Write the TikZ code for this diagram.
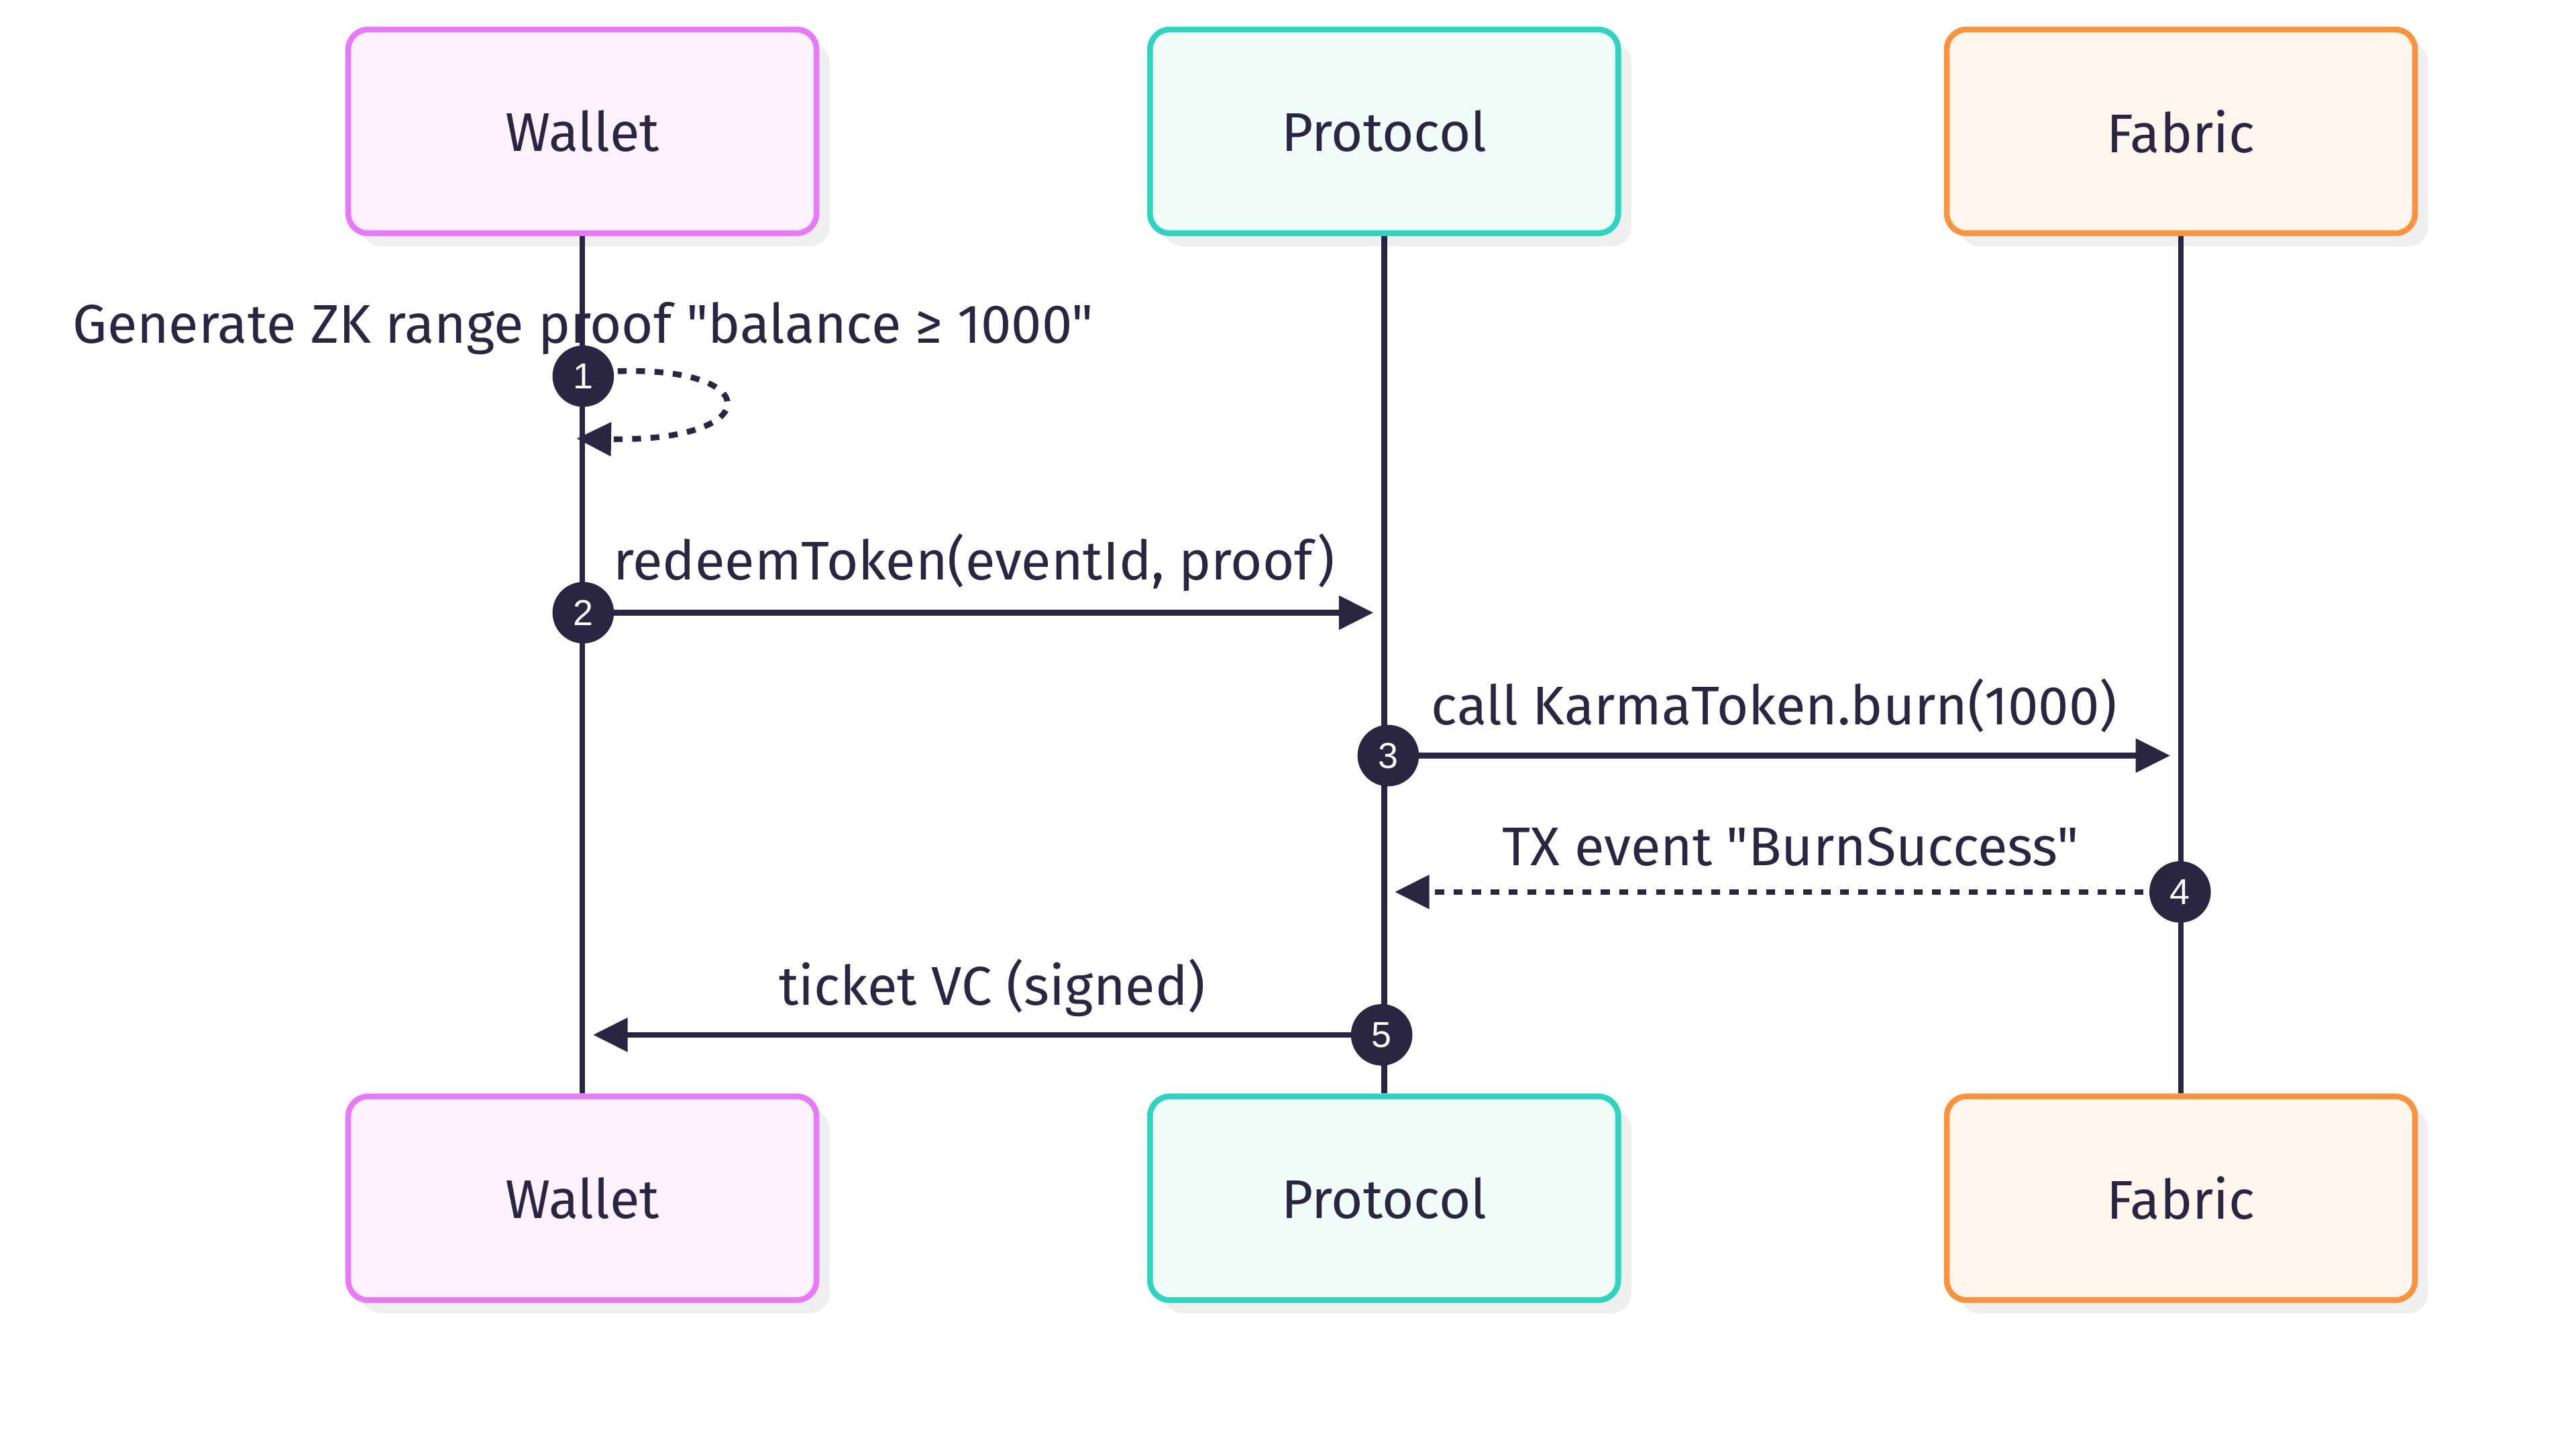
\documentclass[tikz,border=0pt]{standalone}
\usepackage{fontspec}
\setmainfont{Fira Sans}[Ligatures=TeXOff]
\newfontfamily\dotfont{Liberation Sans}
\usetikzlibrary{arrows.meta,shadows}

\definecolor{ink}{HTML}{2A2641}
\definecolor{walletline}{HTML}{E879F9}
\definecolor{walletfill}{HTML}{FDF2FD}
\definecolor{protoline}{HTML}{2DD4BF}
\definecolor{protofill}{HTML}{F0FDF9}
\definecolor{fabricline}{HTML}{FB923C}
\definecolor{fabricfill}{HTML}{FFF7ED}
\definecolor{shade}{HTML}{EFEFEF}

\tikzset{
    actorbox/.style={draw=#1line, fill=#1fill, line width=1.75pt,
        rounded corners=6pt, minimum width=142.5pt, minimum height=62pt,
        text=ink, font=\fontsize{16.6}{20}\selectfont,
        drop shadow={shadow xshift=4pt, shadow yshift=-4pt, fill=shade, opacity=1}},
    lifeline/.style={draw=ink, line width=1.75pt},
    msg/.style={draw=ink, line width=1.75pt, -{Triangle[length=10.5pt, width=10pt]}},
    reply/.style={msg, dash pattern=on 2.7pt off 2.9pt},
    msglabel/.style={text=ink, font=\fontsize{16.6}{20}\selectfont, inner sep=0pt, anchor=base},
    stepdot/.style={circle, fill=ink, text=white, inner sep=0pt,
        minimum size=18.7pt, font=\dotfont\fontsize{11}{12}\selectfont}
}

\begin{document}
\begin{tikzpicture}[x=0.5pt, y=-0.5pt]
    \useasboundingbox (0,0) rectangle (1568,871.4);

    % actors and lifelines
    \foreach \name/\x/\kind/\txt in {w/354.5/wallet/Wallet, p/842.5/proto/Protocol, f/1327.5/fabric/Fabric} {
        \node[actorbox=\kind] (\name Top) at (\x, 80) {\txt};
        \node[actorbox=\kind] (\name Bot) at (\x, 729.5) {\txt};
        \draw[lifeline] (\name Top) -- (\name Bot);
    }

    % step points
    \coordinate (c1) at (355, 229);
    \coordinate (c2) at (355, 373);
    \coordinate (c3) at (845, 460);
    \coordinate (c4) at (1327, 543);
    \coordinate (c5) at (841, 630);

    % arrow ends
    \coordinate (l1a) at (376, 226);
    \coordinate (l1b) at (351, 267);
    \coordinate (t2) at (836, 373);
    \coordinate (t3) at (1321, 460);
    \coordinate (t4) at (849, 543);
    \coordinate (t5) at (361, 630);

    \draw[reply] (l1a) .. controls (466, 223) and (466, 269) .. (l1b);
    \draw[msg] (c2) -- (t2);
    \draw[msg] (c3) -- (t3);
    \draw[reply] (c4) -- (t4);
    \draw[msg] (c5) -- (t5);

    \node[msglabel] (m1) at (355, 209) {Generate ZK range proof "balance ≥ 1000"};
    \node[msglabel] (m2) at (593, 353) {redeemToken(eventId, proof)};
    \node[msglabel] (m3) at (1080, 441) {call KarmaToken.burn(1000)};
    \node[msglabel] (m4) at (1090, 527) {TX event "BurnSuccess"};
    \node[msglabel] (m5) at (604, 612) {ticket VC (signed)};

    \foreach \i in {1, 2, 3, 4, 5} {
        \node[stepdot] (s\i) at (c\i) {\i};
    }
\end{tikzpicture}
\end{document}
